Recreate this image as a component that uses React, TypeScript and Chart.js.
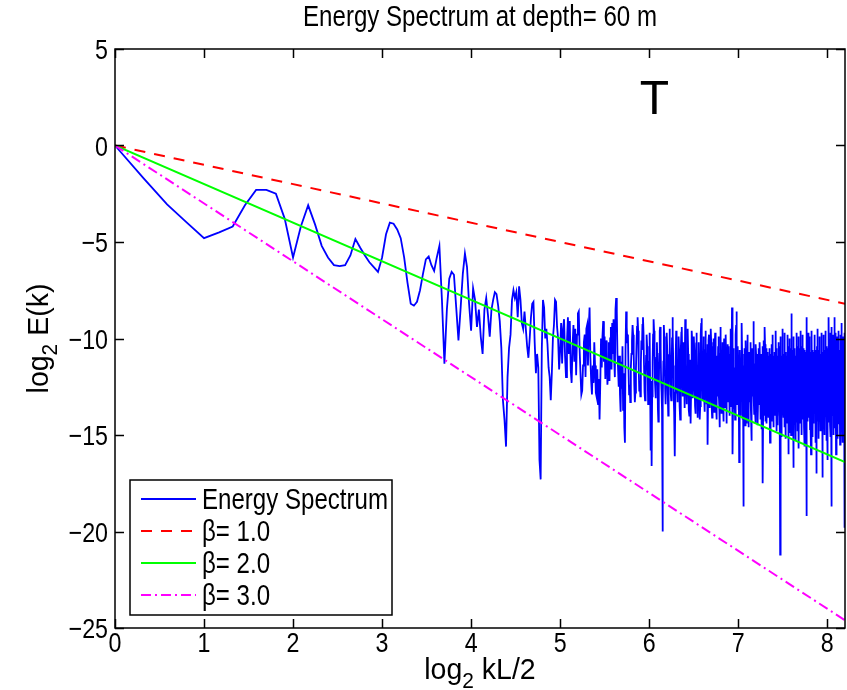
import React, { useEffect, useRef } from "react";
import { Chart, registerables } from "chart.js";

Chart.register(...registerables);

// ---------------- data ----------------
const chartTitle = "Energy Spectrum at depth= 60 m";
const seriesNames = ["Energy Spectrum", "β= 1.0", "β= 2.0", "β= 3.0"];
const seriesColors = ["#0000FF", "#FF0000", "#00FF00", "#FF00FF"];

// wavenumber grid: kL/2 = kStart + i * kStep, plotted as log2(kL/2)
const kStart = 1;
const kStep = 0.25;

// log2 E(k), one value per wavenumber
const energySpectrum = [
  // i 0
  0, -1.7, -3.05, -4.0, -4.8, -4.5, -4.2, -3.1, -2.3, -2.3, -2.5, -3.8, -5.8, -4.2, -3.1, -4.1, -5.2, -5.8, -6.2, -6.25,
  // i 20
  -6.2, -5.7, -4.85, -5.3, -5.7, -6.05, -6.3, -6.55, -5.8, -4.6, -4.0, -4.05, -4.35, -4.8, -5.8, -7.1, -8.2, -8.3, -8.1, -7.5,
  // i 40
  -6.65, -5.9, -5.75, -6.2, -6.5, -5.8, -5.2, -8.0, -11.3, -8.5, -6.9, -6.55, -6.7, -8.4, -10.1, -8.4, -6.65, -5.6, -6.3, -8.2,
  // i 60
  -9.6, -7.4, -8.0, -9.4, -8.5, -9.9, -10.8, -8.5, -7.9, -8.8, -9.9, -8.5, -8.0, -7.6, -7.7, -8.3, -9.1, -10.5, -13.2, -14.2,
  // i 80
  -15.6, -12.0, -10.5, -9.8, -8.0, -7.5, -7.9, -7.6, -8.9, -7.3, -8.0, -9.2, -9.5, -8.6, -9.5, -10.4, -11.0, -10.0, -8.9, -8.2,
  // i 100
  -8.1, -10.2, -11.8, -10.8, -11.5, -16.3, -17.3, -10.5, -8.0, -8.4, -10.0, -9.5, -10.3, -11.5, -12.0, -13.2, -11.8, -10.0, -9.3, -8.0,
  // i 120
  -8.1, -9.4, -10.0, -11.6, -10.6, -9.2, -11.3, -9.5, -9.0, -10.9, -12.0, -10.2, -8.9, -10.8, -9.1, -11.6, -12.3, -10.4, -9.3, -11.2,
  // i 140
  -9.5, -11.9, -9.8, -8.7, -8.6, -10.6, -11.8, -12.9, -12.7, -11.4, -10.2, -9.8, -12.0, -9.5, -9.3, -11.4, -9.4, -8.4, -11.0, -12.2,
  // i 160
  -12.9, -11.4, -12.3, -10.2, -11.4, -12.8, -13.0, -11.6, -13.4, -12.1, -14.2, -12.3, -10.0, -11.5, -9.9, -9.1, -11.2, -9.9, -12.1, -10.1,
  // i 180
  -10.6, -12.4, -11.8, -10.2, -12.2, -10.0, -9.4, -11.6, -9.2, -10.8, -9.0, -11.1, -12.0, -8.5, -7.9, -8.6, -10.8, -11.6, -12.5, -10.9,
  // i 200
  -12.9, -13.8, -11.2, -12.6, -10.4, -13.7, -11.8, -14.6, -15.4, -10.6, -8.6, -9.4, -10.2, -9.8, -11.6, -12.9, -12.4, -13.3, -11.5, -10.8,
  // i 220
  -10.1, -9.3, -9.8, -10.7, -12.4, -13.3, -12.8, -11.6, -10.3, -9.4, -8.9, -9.6, -11.5, -12.7, -12.2, -13.0, -11.3, -10.1, -10.6, -9.3,
  // i 240
  -8.9, -9.7, -11.4, -12.8, -13.2, -12.1, -10.9, -9.8, -10.4, -11.7, -13.4, -12.6, -11.2, -9.7, -12.5, -15.8, -12.2, -16.6, -13.0, -11.2,
  // i 260
  -9.8, -9.0, -9.6, -10.9, -12.3, -13.1, -12.5, -11.0, -10.2, -11.4, -13.6, -14.3, -12.7, -10.8, -9.6, -9.4, -10.5, -12.2, -12.8, -13.7,
  // i 280
  -20.0, -13.4, -11.2, -9.3, -9.9, -11.0, -12.6, -13.4, -12.1, -10.5, -9.7, -10.8, -12.9, -14.0, -12.4, -10.9, -9.5, -10.2, -11.8, -12.9,
  // i 300
  -13.2, -11.6, -10.0, -8.9, -9.7, -11.4, -13.1, -13.8, -14.6, -16.1, -12.8, -10.7, -9.6, -10.3, -12.0, -13.3, -12.5, -11.2, -9.9, -10.6,
  // i 320
  -12.1, -13.5, -14.2, -12.3, -10.6, -9.7, -9.4, -10.8, -12.6, -13.0, -11.5, -10.2, -11.9, -13.6, -12.2, -9.0, -9.5, -11.3, -12.8, -13.4,
  // i 340
  -11.6, -9.9, -9.5, -10.8, -12.5, -13.7, -14.0, -12.4, -11.1, -13.2, -14.4, -12.6, -10.4, -9.6, -10.1, -11.8, -13.1, -12.0, -10.7, -9.9,
  // i 360
  -10.8, -12.6, -13.5, -13.9, -12.2, -10.5, -9.7, -10.6, -12.3, -13.6, -14.1, -12.7, -11.0, -10.2, -11.5, -13.0, -14.2, -13.5, -11.4, -9.8,
  // i 380
  -9.2, -8.95, -10.1, -11.8, -13.2, -12.4, -10.9, -9.9, -11.2, -13.0, -13.8, -12.3, -10.6, -9.6, -10.4, -12.1, -13.4, -12.7, -11.0, -10.3,
  // i 400
  -15.5, -13.1, -11.2, -10.1, -9.8, -10.9, -12.7, -13.6, -12.0, -10.6, -9.5, -10.2, -11.9, -13.5, -14.1, -12.4, -11.0, -10.4, -10.0, -11.7,
  // i 420
  -13.2, -13.8, -12.1, -10.5, -9.7, -10.3, -12.0, -13.4, -14.2, -12.6, -10.9, -11.8, -13.0, -12.2, -10.4, -9.9, -11.3, -12.8, -13.5, -14.6,
  // i 440
  -12.3, -10.8, -9.4, -9.9, -11.6, -13.1, -13.9, -12.5, -10.9, -10.2, -11.4, -13.3, -14.3, -12.8, -11.0, -10.0, -10.7, -12.4, -13.6, -12.2,
  // i 460
  -10.6, -9.8, -10.9, -12.6, -14.4, -13.2, -11.5, -10.3, -11.8, -13.3, -12.7, -11.1, -10.4, -12.0, -13.5, -14.0, -12.3, -10.8, -9.5, -10.6,
  // i 480
  -12.2, -13.5, -12.6, -10.9, -8.4, -10.2, -12.8, -16.0, -13.4, -11.3, -10.5, -11.9, -13.6, -12.9, -11.5, -13.0, -14.2, -12.1, -10.7, -9.8,
  // i 500
  -9.3, -8.6, -10.1, -12.0, -13.4, -12.6, -11.2, -10.4, -11.7, -13.1, -13.7, -12.0, -16.4, -13.5, -11.3, -10.6, -11.9, -13.2, -14.0, -12.4,
  // i 520
  -11.1, -10.3, -9.9, -9.2, -10.8, -12.5, -13.6, -14.2, -13.1, -11.6, -18.7, -13.0, -11.4, -10.5, -11.8, -13.4, -14.5, -12.7, -11.2, -10.6,
  // i 540
  -10.1, -11.5, -13.2, -14.4, -12.9, -11.7, -10.4, -9.8, -10.9, -12.6, -13.8, -14.6, -13.0, -11.5, -10.7, -11.9, -13.3, -12.4, -11.0, -10.2,
  // i 560
  -11.6, -13.1, -14.0, -14.8, -15.3, -12.6, -11.1, -10.5, -11.8, -13.0, -12.2, -10.6, -9.1, -9.8, -11.4, -13.0, -13.9, -12.5, -11.3, -12.6,
  // i 580
  -13.8, -14.4, -12.7, -11.2, -10.3, -10.9, -12.5, -13.7, -12.9, -11.4, -10.8, -12.2, -13.6, -14.5, -13.1, -11.7, -10.5, -11.3, -12.8, -13.4,
  // i 600
  -12.0, -10.9, -10.2, -11.6, -13.3, -14.2, -13.0, -11.5, -10.8, -12.1, -13.9, -14.7, -12.6, -11.2, -10.4, -11.1, -12.7, -17.5, -13.6, -11.8,
  // i 620
  -10.6, -10.1, -11.4, -13.0, -14.0, -12.5, -9.4, -10.3, -11.9, -13.4, -14.3, -12.8, -11.3, -10.5, -11.7, -13.2, -14.4, -13.1, -11.6, -10.7,
  // i 640
  -11.9, -13.5, -12.3, -10.9, -12.6, -11.4, -14.1, -12.0, -10.5, -13.0, -11.8, -12.7, -15.4, -11.3, -12.2, -10.8, -13.6, -12.4, -11.0, -14.3,
  // i 660
  -12.1, -10.3, -13.2, -11.7, -12.9, -9.8, -13.9, -11.5, -12.3, -14.6, -11.2, -10.9, -12.8, -13.4, -11.6, -12.5, -10.7, -14.0, -12.2, -11.3,
  // i 680
  -13.7, -10.8, -12.4, -9.6, -13.1, -10.5, -12.7, -14.8, -11.4, -12.0, -13.5, -10.9, -12.6, -11.2, -14.5, -12.3, -10.2, -13.3, -11.8, -12.9,
  // i 700
  -10.4, -13.6, -12.1, -11.0, -14.0, -12.5, -21.2, -12.8, -11.3, -9.9, -13.2, -11.9, -12.6, -15.1, -10.9, -12.2, -11.5, -13.8, -12.0, -10.6,
  // i 720
  -9.5, -12.7, -13.5, -11.1, -12.4, -10.8, -14.1, -12.9, -11.6, -13.3, -9.7, -12.2, -11.8, -14.6, -12.5, -11.0, -15.2, -10.7, -12.6, -11.4,
  // i 740
  -13.7, -12.1, -10.9, -14.4, -11.7, -12.8, -9.8, -13.4, -12.3, -11.2, -13.9, -10.8, -16.0, -12.5, -11.5, -13.1, -10.4, -12.7, -14.9, -11.9,
  // i 760
  -12.4, -10.0, -13.6, -11.3, -12.9, -14.0, -10.5, -12.2, -11.6, -15.0, -12.0, -10.9, -8.7, -12.6, -13.8, -11.1, -12.3, -10.6, -14.5, -12.8,
  // i 780
  -11.5, -13.2, -9.9, -16.7, -12.4, -11.2, -13.7, -10.6, -12.9, -11.8, -14.1, -12.3, -10.5, -13.0, -11.6, -15.3, -10.9, -13.9, -12.1, -11.3,
  // i 800
  -14.3, -12.6, -9.7, -13.1, -11.9, -12.4, -10.4, -13.6, -12.2, -11.0, -14.8, -12.8, -10.6, -13.4, -11.5, -12.1, -9.9, -13.8, -15.7, -12.5,
  // i 820
  -11.1, -13.3, -10.5, -12.7, -14.0, -11.7, -12.4, -9.6, -13.5, -12.0, -11.3, -14.4, -12.6, -10.7, -15.0, -11.8, -12.9, -10.4, -13.7, -12.2,
  // i 840
  -11.0, -14.2, -12.5, -9.8, -13.4, -11.6, -12.3, -10.5, -13.9, -12.7, -11.2, -14.6, -12.0, -10.9, -13.2, -11.5, -15.6, -10.6, -13.6, -12.1,
  // i 860
  -11.4, -14.0, -12.6, -10.7, -13.3, -11.9, -12.2, -10.4, -8.9, -19.2, -12.8, -11.1, -13.5, -10.8, -12.5, -14.3, -11.7, -12.0, -9.7, -13.8,
  // i 880
  -12.3, -11.2, -14.1, -12.7, -10.5, -13.0, -11.8, -12.4, -9.9, -13.6, -12.1, -11.4, -14.7, -12.6, -10.7, -13.2, -11.5, -12.9, -14.6, -16.0,
  // i 900
  -12.2, -10.8, -13.7, -11.6, -12.5, -9.6, -13.3, -12.0, -11.2, -14.2, -12.7, -10.6, -15.1, -11.8, -12.3, -10.9, -13.4, -12.6, -11.0, -14.4,
  // i 920
  -12.1, -10.7, -13.6, -11.5, -12.8, -9.8, -13.1, -12.4, -11.3, -14.0, -12.9, -10.8, -13.5, -11.7, -15.4, -10.6, -13.8, -12.5, -17.0, -11.9,
  // i 940
  -11.1, -13.2, -10.4, -12.7, -14.3, -11.6, -12.3, -9.5, -13.7, -12.0, -11.4, -14.5, -12.6, -10.6, -13.0, -11.8, -15.2, -10.7, -13.9, -12.2,
  // i 960
  -11.0, -14.1, -12.8, -9.9, -13.4, -11.7, -12.5, -10.8, -13.6, -12.1, -11.3, -14.8, -12.7, -10.4, -13.1, -11.9, -12.3, -9.7, -13.8, -12.4,
  // i 980
  -11.2, -14.0, -12.6, -10.9, -13.3, -17.2, -12.0, -10.7, -13.5, -11.6, -12.8, -9.8, -14.2, -12.4, -11.1, -13.7, -15.0, -10.8, -13.0, -11.5,
  // i 1000
  -12.7, -10.6, -14.4, -12.1, -11.4, -13.6, -12.9, -9.6, -13.2, -11.8, -12.5, -10.4, -14.0, -12.3, -11.0, -15.3, -12.6, -10.9, -13.9, -14.1,
  // i 1020
  -16.3, -11.7, -12.4, -10.5, -13.4, -12.0, -11.3, -14.3, -12.8, -9.9, -13.1, -11.9, -12.2, -10.8, -8.9, -12.7, -13.6, -11.5, -12.9, -10.7,
  // i 1040
  -13.8, -12.3, -11.1, -14.5, -12.6, -9.7, -13.3, -11.8, -12.4, -10.9, -15.1, -12.0, -11.4, -14.2, -12.8, -10.6, -18.7, -9.4, -12.5, -13.9,
  // i 1060
  -11.2, -12.7, -10.8, -13.5, -12.1, -11.5, -14.0, -12.4, -9.8, -13.2, -11.9, -12.8, -10.4, -13.8, -15.0, -11.0, -14.6, -12.6, -8.9, -11.7,
  // i 1080
  -13.4, -12.0, -10.7, -13.9, -11.6, -12.5, -9.7, -14.3, -12.2, -11.3, -13.6, -12.9, -10.5, -16.0, -12.4, -11.1, -13.1, -11.8, -12.7, -10.6,
  // i 1100
  -14.1, -12.3, -9.9, -13.7, -12.6, -10.8, -13.2, -11.5, -15.2, -10.5, -14.4, -12.1, -11.7, -13.5, -12.8, -9.6, -13.0, -11.9, -12.2, -10.9,
  // i 1120
  -13.8, -12.5, -11.2, -14.2, -12.0, -10.6, -13.4, -11.8, -15.5, -10.4, -13.9, -12.3, -9.8, -14.6, -12.6, -10.8, -13.3, -11.6, -12.9, -10.5,
  // i 1140
  -9.2, -12.4, -13.7, -11.3, -12.8, -10.7, -14.0, -12.2, -11.5, -15.4, -12.9, -10.6, -13.1, -11.9, -12.5, -9.9, -14.3, -12.0, -11.4, -13.5,
  // i 1160
  -12.7, -10.9, -13.8, -11.6, -12.3, -19.8, -12.6, -11.1, -13.4, -9.7, -12.9, -11.8, -14.1, -12.4, -10.6, -13.2, -11.5, -12.8, -10.9, -13.6,
];

// reference power laws E ~ k^-beta, drawn between the two x ends
const betaLineX = [0, 8.2];
const beta1Line = [0, -8.2];
const beta2Line = [0, -16.4];
const beta3Line = [0, -24.6];

// axes
const xMin = 0;
const xMax = 8.2;
const yMin = -25;
const yMax = 5;
const xTickValues = [0, 1, 2, 3, 4, 5, 6, 7, 8];
const yTickValues = [-25, -20, -15, -10, -5, 0, 5];
const panelLabel = "T";
const panelLabelPos = [6.06, 1.65];

// ---------------- drawing helpers ----------------
const FONT = '"Liberation Sans", Arial, Helvetica, sans-serif';
const NARROW = 0.83;

function narrowText(
  ctx: CanvasRenderingContext2D,
  text: string,
  x: number,
  y: number,
  size: number,
  align: CanvasTextAlign,
  baseline: CanvasTextBaseline,
  sx: number = NARROW
) {
  ctx.save();
  ctx.translate(x, y);
  ctx.scale(sx, 1);
  ctx.font = `${size}px ${FONT}`;
  ctx.textAlign = align;
  ctx.textBaseline = baseline;
  ctx.fillStyle = "#000";
  ctx.fillText(text, 0, 0);
  ctx.restore();
}

// draws "log" + subscript "2" + rest, starting at (0,0) baseline, left aligned
function drawLog2Label(ctx: CanvasRenderingContext2D, rest: string, size: number) {
  ctx.font = `${size}px ${FONT}`;
  ctx.fillStyle = "#000";
  ctx.textBaseline = "alphabetic";
  ctx.textAlign = "left";
  const w1 = ctx.measureText("log").width;
  ctx.fillText("log", 0, 0);
  const subSize = Math.round(size * 0.72);
  ctx.font = `${subSize}px ${FONT}`;
  ctx.fillText("2", w1, size * 0.3);
  const w2 = ctx.measureText("2").width;
  ctx.font = `${size}px ${FONT}`;
  ctx.fillText(" " + rest, w1 + w2, 0);
}

function log2LabelWidth(ctx: CanvasRenderingContext2D, rest: string, size: number) {
  ctx.font = `${size}px ${FONT}`;
  const w1 = ctx.measureText("log").width;
  const w3 = ctx.measureText(" " + rest).width;
  ctx.font = `${Math.round(size * 0.72)}px ${FONT}`;
  const w2 = ctx.measureText("2").width;
  return w1 + w2 + w3;
}

function fmtTick(v: number) {
  return v < 0 ? "\u2212" + Math.abs(v) : String(v);
}

const LABEL_SX = 0.95;
const LABEL_SIZE = 30;

const matlabAxesPlugin = {
  id: "matlabAxes",
  afterDatasetsDraw(chart: any) {
    const ctx: CanvasRenderingContext2D = chart.ctx;
    const a = chart.chartArea;
    const xs = chart.scales.x;
    const ys = chart.scales.y;
    ctx.save();

    // box
    ctx.strokeStyle = "#000";
    ctx.lineWidth = 1.5;
    ctx.strokeRect(a.left, a.top, a.right - a.left, a.bottom - a.top);

    // inward ticks on all four sides
    const TL = 9;
    ctx.beginPath();
    xs.ticks.forEach((t: any) => {
      const px = Math.round(xs.getPixelForValue(t.value)) + 0.5;
      ctx.moveTo(px, a.bottom);
      ctx.lineTo(px, a.bottom - TL);
      ctx.moveTo(px, a.top);
      ctx.lineTo(px, a.top + TL);
    });
    ys.ticks.forEach((t: any) => {
      const py = Math.round(ys.getPixelForValue(t.value)) + 0.5;
      ctx.moveTo(a.left, py);
      ctx.lineTo(a.left + TL, py);
      ctx.moveTo(a.right, py);
      ctx.lineTo(a.right - TL, py);
    });
    ctx.lineWidth = 1.5;
    ctx.stroke();

    // tick labels
    xs.ticks.forEach((t: any) => {
      const px = xs.getPixelForValue(t.value);
      narrowText(ctx, fmtTick(t.value), px, a.bottom + 24, 28, "center", "alphabetic");
    });
    ys.ticks.forEach((t: any) => {
      const py = ys.getPixelForValue(t.value);
      narrowText(ctx, fmtTick(t.value), a.left - 7, py + 10, 28, "right", "alphabetic");
    });

    // title
    narrowText(ctx, chartTitle, (a.left + a.right) / 2, 26, 29, "center", "alphabetic");

    // x axis label
    {
      const w = log2LabelWidth(ctx, "kL/2", LABEL_SIZE) * LABEL_SX;
      ctx.save();
      ctx.translate((a.left + a.right) / 2 - w / 2, 679);
      ctx.scale(LABEL_SX, 1);
      drawLog2Label(ctx, "kL/2", LABEL_SIZE);
      ctx.restore();
    }
    // y axis label
    {
      const w = log2LabelWidth(ctx, "E(k)", LABEL_SIZE) * LABEL_SX;
      ctx.save();
      ctx.translate(48, (a.top + a.bottom) / 2 + w / 2);
      ctx.rotate(-Math.PI / 2);
      ctx.scale(LABEL_SX, 1);
      drawLog2Label(ctx, "E(k)", LABEL_SIZE);
      ctx.restore();
    }

    // panel label "T"
    {
      const px = xs.getPixelForValue(panelLabelPos[0]);
      const py = ys.getPixelForValue(panelLabelPos[1]);
      narrowText(ctx, panelLabel, px, py, 48, "center", "alphabetic", 1);
    }

    // legend
    {
      const L = 130, T = 480, R = 392, B = 615;
      ctx.fillStyle = "#fff";
      ctx.fillRect(L, T, R - L, B - T);
      ctx.strokeStyle = "#000";
      ctx.lineWidth = 1.5;
      ctx.strokeRect(L, T, R - L, B - T);
      const rows = [499, 531, 563, 595];
      const dashes = [[], [11, 9], [], [10, 4, 2, 4]];
      seriesNames.forEach((name, i) => {
        const y = rows[i];
        ctx.save();
        ctx.strokeStyle = seriesColors[i];
        ctx.lineWidth = 2;
        ctx.setLineDash(dashes[i]);
        ctx.beginPath();
        ctx.moveTo(141, y);
        ctx.lineTo(196, y);
        ctx.stroke();
        ctx.restore();
        narrowText(ctx, name, 202, y + 10, 29, "left", "alphabetic");
      });
    }
    ctx.restore();
  },
};

export default function App() {
  const canvasRef = useRef<HTMLCanvasElement | null>(null);

  useEffect(() => {
    document.body.style.margin = "0";
    const canvas = canvasRef.current;
    if (!canvas) return;

    const spectrumPoints = energySpectrum.map((v, i) => ({
      x: Math.log2(kStart + i * kStep),
      y: v,
    }));
    const linePoints = (ys: number[]) => betaLineX.map((x, i) => ({ x, y: ys[i] }));

    const chart = new Chart(canvas, {
      type: "line",
      data: {
        datasets: [
          {
            label: seriesNames[0],
            data: spectrumPoints,
            borderColor: seriesColors[0],
            borderWidth: 1.8,
            pointRadius: 0,
            tension: 0,
            order: 10,
          },
          {
            label: seriesNames[1],
            data: linePoints(beta1Line),
            borderColor: seriesColors[1],
            borderWidth: 2,
            borderDash: [11, 9],
            pointRadius: 0,
            order: 3,
          },
          {
            label: seriesNames[2],
            data: linePoints(beta2Line),
            borderColor: seriesColors[2],
            borderWidth: 2,
            pointRadius: 0,
            order: 2,
          },
          {
            label: seriesNames[3],
            data: linePoints(beta3Line),
            borderColor: seriesColors[3],
            borderWidth: 2,
            borderDash: [10, 4, 2, 4],
            pointRadius: 0,
            order: 1,
          },
        ],
      },
      options: {
        responsive: false,
        animation: false,
        devicePixelRatio: 1,
        parsing: false,
        normalized: true,
        layout: { padding: { top: 49, left: 0, right: 2, bottom: 0 } },
        plugins: {
          legend: { display: false },
          title: { display: false },
          tooltip: { enabled: false },
        },
        scales: {
          x: {
            type: "linear",
            min: xMin,
            max: xMax,
            grid: { display: false },
            border: { display: false },
            ticks: { display: false },
            afterBuildTicks: (s: any) => {
              s.ticks = xTickValues.map((v) => ({ value: v }));
            },
            afterFit: (s: any) => {
              s.height = 62;
            },
          },
          y: {
            type: "linear",
            min: yMin,
            max: yMax,
            grid: { display: false },
            border: { display: false },
            ticks: { display: false },
            afterBuildTicks: (s: any) => {
              s.ticks = yTickValues.map((v) => ({ value: v }));
            },
            afterFit: (s: any) => {
              s.width = 115;
            },
          },
        },
      },
      plugins: [matlabAxesPlugin],
    });

    return () => chart.destroy();
  }, []);

  return (
    <div style={{ width: 847, height: 690, background: "#fff" }}>
      <canvas ref={canvasRef} width={847} height={690} style={{ display: "block" }} />
    </div>
  );
}
